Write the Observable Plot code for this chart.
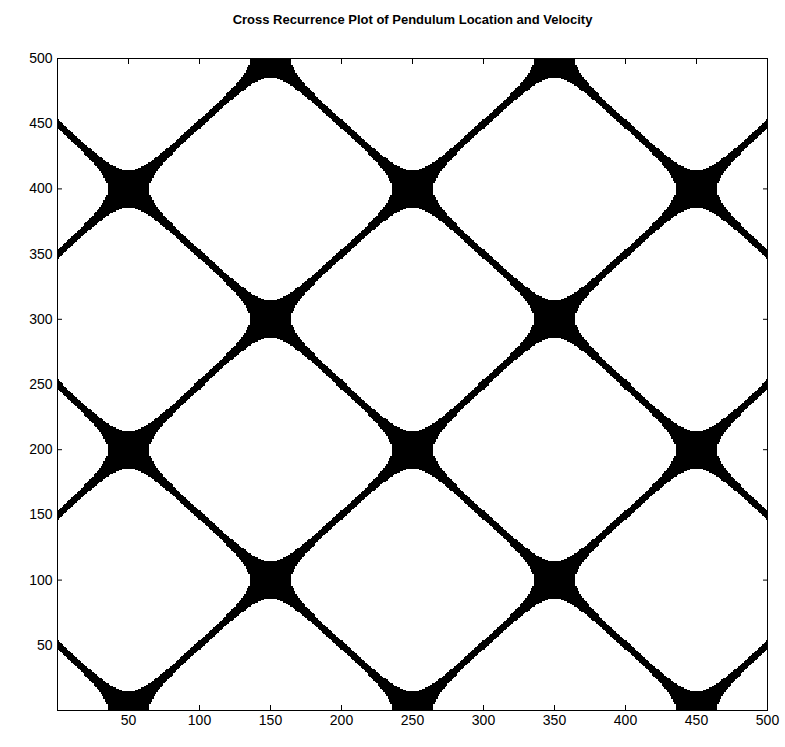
<!DOCTYPE html>
<html><head><meta charset="utf-8">
<script src="https://cdn.jsdelivr.net/npm/d3@7"></script>
<script src="https://cdn.jsdelivr.net/npm/@observablehq/plot@0.6"></script>
<style>body{margin:0;background:#fff}</style>
</head><body><div id="c"></div>
<script>
const title = "Cross Recurrence Plot of Pendulum Location and Velocity";
const period = 200;          // samples per swing
const phaseShift = 150;      // velocity lags location
const threshold = 0.1;       // recurrence radius
const N = 500;
const ticks = [50,100,150,200,250,300,350,400,450,500];
// sampled series: pendulum location and (normalised) velocity
const pendLocation = d3.range(N + 1).map(t => Math.sin(2 * Math.PI * t / period));
const pendVelocity = d3.range(N + 1).map(t => Math.sin(2 * Math.PI * (t - phaseShift) / period));

const val = (arr, t) => { const i = Math.max(0, Math.min(N, Math.round(t))); return arr[i]; };

const plot = Plot.plot({
  width: 785, height: 747,
  marginLeft: 57, marginRight: 18, marginTop: 58, marginBottom: 37,
  style: {fontFamily: "Arial, 'Liberation Sans', sans-serif", fontSize: "14px", color: "black"},
  x: {domain: [0, 500], ticks, label: null},
  y: {domain: [0, 500], ticks, label: null},
  color: {domain: [0, 1], range: ["white", "black"]},
  marks: [
    Plot.raster({x1: 0, x2: 500, y1: 0, y2: 500, width: 700, height: 650,
      fill: (x, y) => Math.abs(val(pendLocation, x) - val(pendVelocity, y)) < threshold ? 1 : 0,
      imageRendering: "pixelated"}),
    Plot.frame({stroke: "black"}),
    Plot.axisX({ticks, tickSize: -5, tickPadding: 10, fontSize: 14}),
    Plot.axisX({ticks, anchor: "top", tickSize: -5, tickFormat: () => ""}),
    Plot.axisY({ticks, tickSize: -5, tickPadding: 10, fontSize: 14}),
    Plot.axisY({ticks, anchor: "right", tickSize: -5, tickFormat: () => ""}),
    Plot.text([title], {frameAnchor: "top", dy: -44, fontWeight: "bold", fontSize: 13})
  ]
});
document.getElementById("c").append(plot);
</script></body></html>
